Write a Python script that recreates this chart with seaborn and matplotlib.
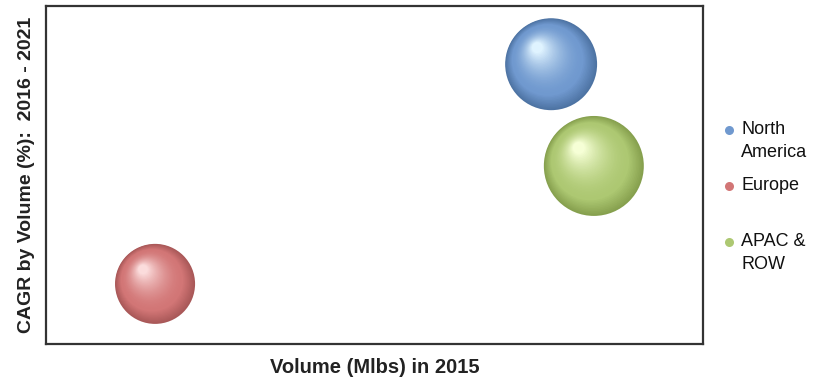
import numpy as np
import pandas as pd
import matplotlib
matplotlib.use("Agg")
import matplotlib.pyplot as plt
import matplotlib.transforms as mtransforms
from matplotlib.colors import to_rgb
from matplotlib.lines import Line2D
import seaborn as sns

# data (no scale on the original chart, positions read on a 0-100 grid)
regions = ["North America", "Europe", "APAC & ROW"]
legend_labels = ["North\nAmerica", "Europe\n", "APAC &\nROW"]
volume_2015 = [76.9, 16.6, 83.4]
cagr_volume = [82.8, 17.8, 52.7]
bubble_area = [4380, 3320, 5180]  # marker area, points^2

# sphere colours: edge, body, highlight
edge_colors = ["#4d73a3", "#a95858", "#86a04e"]
body_colors = ["#7099cf", "#d27676", "#adc872"]
light_colors = ["#dff3ff", "#fbdcdc", "#f6ffd6"]

df = pd.DataFrame({"region": regions, "volume": volume_2015,
                   "cagr": cagr_volume, "area": bubble_area})

sns.set_style("white")
plt.rcParams["font.family"] = ["Liberation Sans", "DejaVu Sans"]

fig = plt.figure(figsize=(8.19, 3.81), dpi=100)
ax = fig.add_axes([0.0562, 0.097, 0.802, 0.887])

# base bubbles through seaborn
sns.scatterplot(data=df, x="volume", y="cagr", hue="region", size="area",
                sizes=(min(bubble_area), max(bubble_area)),
                palette=dict(zip(regions, edge_colors)),
                edgecolor="none", legend=False, ax=ax, zorder=2)


def blend(c1, c2, t):
    a, b = np.array(to_rgb(c1)), np.array(to_rgb(c2))
    return tuple(a + (b - a) * t)


# shading layers to give the spheres a lit look
n_layers = 40
for x, y, area, ec, bc, lc in zip(volume_2015, cagr_volume, bubble_area,
                                  edge_colors, body_colors, light_colors):
    r = np.sqrt(area) / 2
    for k in range(1, n_layers + 1):
        t = k / n_layers
        frac = 1 - 0.88 * t
        if t < 0.25:
            col = blend(ec, bc, t / 0.25)
        else:
            col = blend(bc, lc, ((t - 0.25) / 0.75) ** 1.8)
        tr = mtransforms.offset_copy(ax.transData, fig=fig,
                                     x=-0.30 * r * t, y=0.36 * r * t,
                                     units="points")
        ax.scatter([x], [y], s=area * frac ** 2, color=col, edgecolor="none",
                   transform=tr, zorder=3)

ax.set_xlim(0, 100)
ax.set_ylim(0, 100)
ax.set_xticks([])
ax.set_yticks([])
for sp in ax.spines.values():
    sp.set_visible(True)
    sp.set_color("#333333")
    sp.set_linewidth(1.6)

ax.set_xlabel("Volume (Mlbs) in 2015", fontsize=14.5, fontweight="bold",
              color="#222222", labelpad=10)
ax.set_ylabel("CAGR by Volume (%):  2016 - 2021", fontsize=14,
              fontweight="bold", color="#222222", labelpad=8)

handles = [Line2D([], [], linestyle="none", marker="o", markersize=6.5,
                  markerfacecolor=c, markeredgecolor="none")
           for c in body_colors]
leg = fig.legend(handles, legend_labels, loc="upper left",
                 bbox_to_anchor=(724 / 819, 1 - 121 / 381), frameon=False,
                 fontsize=13, handlelength=0.6, handletextpad=0.35,
                 labelspacing=0.9, borderpad=0, borderaxespad=0)
for t in leg.get_texts():
    t.set_color("#111111")
    t.set_linespacing(1.45)
# put each marker on the first line of its label
for h in leg.legend_handles:
    h.set_ydata(np.asarray(h.get_ydata()) + 8.0)

fig.savefig("out.png", dpi=100)
